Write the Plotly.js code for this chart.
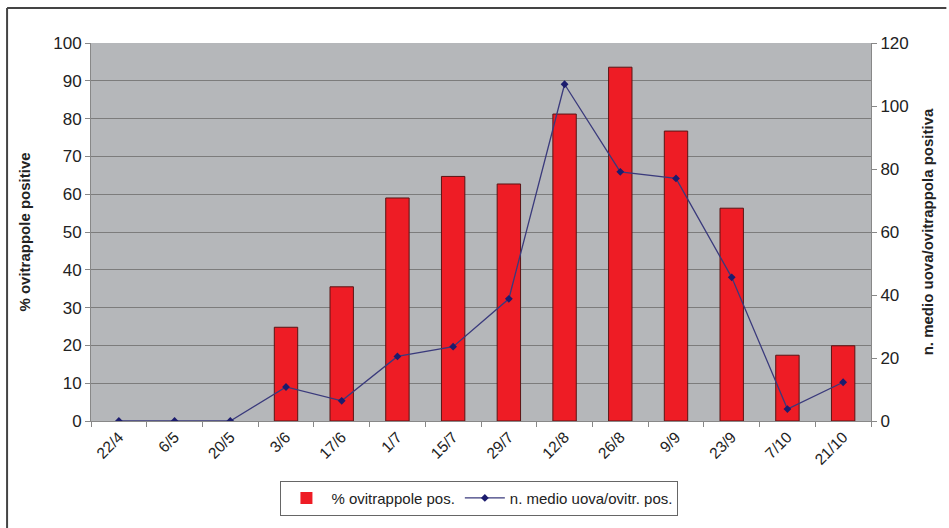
<!DOCTYPE html>
<html>
<head>
<meta charset="utf-8">
<script src="https://cdn.plot.ly/plotly-3.0.1.min.js"></script>
<style>
  html, body { margin: 0; padding: 0; background: #ffffff; }
  #chart { width: 949px; height: 528px; }
</style>
</head>
<body>
<div id="chart"></div>
<script>
// Sampling dates (day/month)
const dates = ["22/4", "6/5", "20/5", "3/6", "17/6", "1/7", "15/7", "29/7", "12/8", "26/8", "9/9", "23/9", "7/10", "21/10"];
// % of positive ovitraps
const pctPositive = [0, 0, 0, 24.8, 35.5, 59, 64.7, 62.7, 81.2, 93.6, 76.7, 56.3, 17.4, 19.9];
// Mean number of eggs per positive ovitrap
const meanEggs = [0, 0, 0, 10.8, 6.4, 20.5, 23.6, 38.8, 106.9, 79.1, 77, 45.6, 3.8, 12.3];

const fontFamily = '"Liberation Sans", Arial, sans-serif';

const bars = {
  type: 'bar',
  x: dates,
  y: pctPositive,
  name: '% ovitrappole pos.',
  width: 0.42,
  marker: {
    color: '#ee1c25',
    // no outline on empty bars, so nothing is drawn on the baseline
    line: { color: '#5a1414', width: pctPositive.map(v => (v > 0 ? 1 : 0)) }
  },
  yaxis: 'y'
};

const line = {
  type: 'scatter',
  mode: 'lines+markers',
  x: dates,
  y: meanEggs,
  name: 'n. medio uova/ovitr. pos.',
  line: { color: '#3a3a7c', width: 1.3 },
  marker: { symbol: 'diamond', size: 6, color: '#1c1c6e' },
  yaxis: 'y2'
};

const layout = {
  width: 949,
  height: 528,
  margin: { l: 91, r: 78, t: 43, b: 107 },
  paper_bgcolor: '#ffffff',
  plot_bgcolor: '#b5b7ba',
  font: { family: fontFamily, color: '#222222', size: 15 },
  showlegend: true,
  xaxis: {
    type: 'category',
    tickangle: -45,
    tickson: 'boundaries',
    ticks: 'outside',
    ticklen: 5,
    tickcolor: '#888888',
    showline: true,
    linecolor: '#888888',
    linewidth: 1,
    showgrid: false,
    tickfont: { size: 15.5, color: '#222222' },
    range: [-0.5, 13.5]
  },
  yaxis: {
    range: [0, 100],
    dtick: 10,
    ticks: 'outside',
    ticklen: 5,
    tickcolor: '#888888',
    showline: true,
    linecolor: '#888888',
    gridcolor: '#7c7c7c',
    gridwidth: 1,
    zeroline: false,
    tickfont: { size: 17, color: '#222222' },
    title: { text: '<b>% ovitrappole positive</b>', font: { size: 15, color: '#222222' }, standoff: 18 }
  },
  yaxis2: {
    overlaying: 'y',
    side: 'right',
    range: [0, 120],
    dtick: 20,
    ticks: 'outside',
    ticklen: 5,
    tickcolor: '#888888',
    showline: true,
    linecolor: '#888888',
    showgrid: false,
    zeroline: false,
    tickfont: { size: 17, color: '#222222' },
    title: { text: '<b>n. medio uova/ovitrappola positiva</b>', font: { size: 15, color: '#222222' }, standoff: 14 }
  },
  legend: {
    orientation: 'h',
    x: 0.498,
    xanchor: 'center',
    y: -0.158,
    yanchor: 'top',
    bgcolor: '#ffffff',
    bordercolor: '#666666',
    borderwidth: 1,
    font: { size: 15, color: '#222222' },
    itemwidth: 40
  },
  shapes: [
    // outer frame: left and top edges
    { type: 'line', xref: 'paper', yref: 'paper', x0: -0.1076, x1: -0.1076, y0: (421 - 528) / 378, y1: 1.0926, line: { color: '#444444', width: 2 } },
    { type: 'line', xref: 'paper', yref: 'paper', x0: -0.1076, x1: 1.0966, y0: 1.0926, y1: 1.0926, line: { color: '#444444', width: 2 } }
  ]
};

Plotly.newPlot('chart', [bars, line], layout, { displayModeBar: false, staticPlot: true });
</script>
</body>
</html>
